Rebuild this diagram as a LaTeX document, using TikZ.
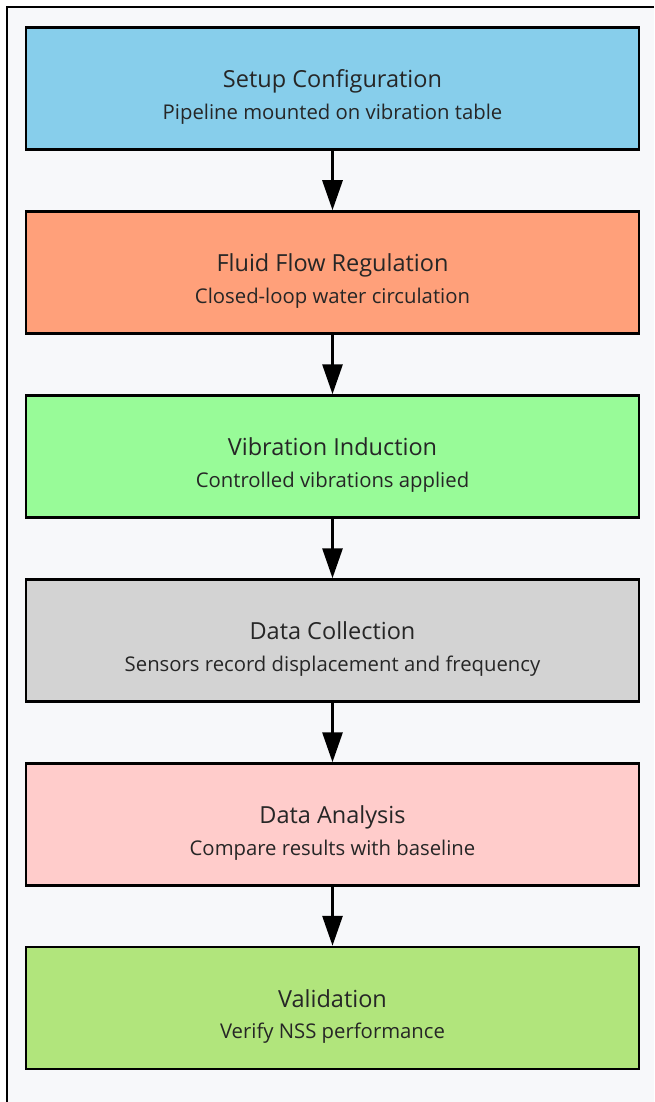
\documentclass[tikz,border=0pt]{standalone}
\usepackage{fontspec}
\setmainfont{Open Sans}
\usetikzlibrary{arrows.meta}
\definecolor{pagebg}{HTML}{F7F8FA}
\definecolor{cSetup}{HTML}{87CEEB}
\definecolor{cFlow}{HTML}{FFA07A}
\definecolor{cVib}{HTML}{98FB98}
\definecolor{cData}{HTML}{D3D3D3}
\definecolor{cAnal}{HTML}{FFCCCB}
\definecolor{cValid}{HTML}{B1E57C}
\newcommand{\steptext}[2]{{\fontsize{23.5}{31.5}\selectfont #1}\\{\fontsize{20.3}{31.5}\selectfont #2}}
\begin{document}
\begin{tikzpicture}[x=1pt,y=-1pt,
  stepbox/.style={draw=black, line width=2.5pt, minimum width=613pt,
    minimum height=122pt, inner sep=0pt},
  steplabel/.style={inner sep=0pt, align=center, text=black!85,
    font=\fontsize{20.3}{31.5}\selectfont, yshift=-8.5pt},
  flow/.style={-{Triangle[length=30pt,width=20pt]}, line width=3pt}]
\useasboundingbox (0,0) rectangle (654,1102);
\fill[white] (0,0) rectangle (654,1102);
\fill[pagebg] (7,7) rectangle (654,1102);
\draw[line width=2pt] (654,7) -- (7,7) -- (7,1102);

% process steps
\node[stepbox, fill=cSetup] (n1) at (332.5, 88.5) {};
\node[stepbox, fill=cFlow]  (n2) at (332.5, 272.5) {};
\node[stepbox, fill=cVib]   (n3) at (332.5, 456.5) {};
\node[stepbox, fill=cData]  (n4) at (332.5, 640.5) {};
\node[stepbox, fill=cAnal]  (n5) at (332.5, 824.5) {};
\node[stepbox, fill=cValid] (n6) at (332.5, 1008) {};

% step titles and descriptions
\node[steplabel] (t1) at (n1.center)
  {\steptext{Setup Configuration}{Pipeline mounted on vibration table}};
\node[steplabel] (t2) at (n2.center)
  {\steptext{Fluid Flow Regulation}{Closed-loop water circulation}};
\node[steplabel] (t3) at (n3.center)
  {\steptext{Vibration Induction}{Controlled vibrations applied}};
\node[steplabel] (t4) at (n4.center)
  {\steptext{Data Collection}{Sensors record displacement and frequency}};
\node[steplabel] (t5) at (n5.center)
  {\steptext{Data Analysis}{Compare results with baseline}};
\node[steplabel] (t6) at (n6.center)
  {\steptext{Validation}{Verify NSS performance}};

% flow between steps
\draw[flow] (n1.south) -- (n2.north);
\draw[flow] (n2.south) -- (n3.north);
\draw[flow] (n3.south) -- (n4.north);
\draw[flow] (n4.south) -- (n5.north);
\draw[flow] (n5.south) -- (n6.north);
\end{tikzpicture}
\end{document}
